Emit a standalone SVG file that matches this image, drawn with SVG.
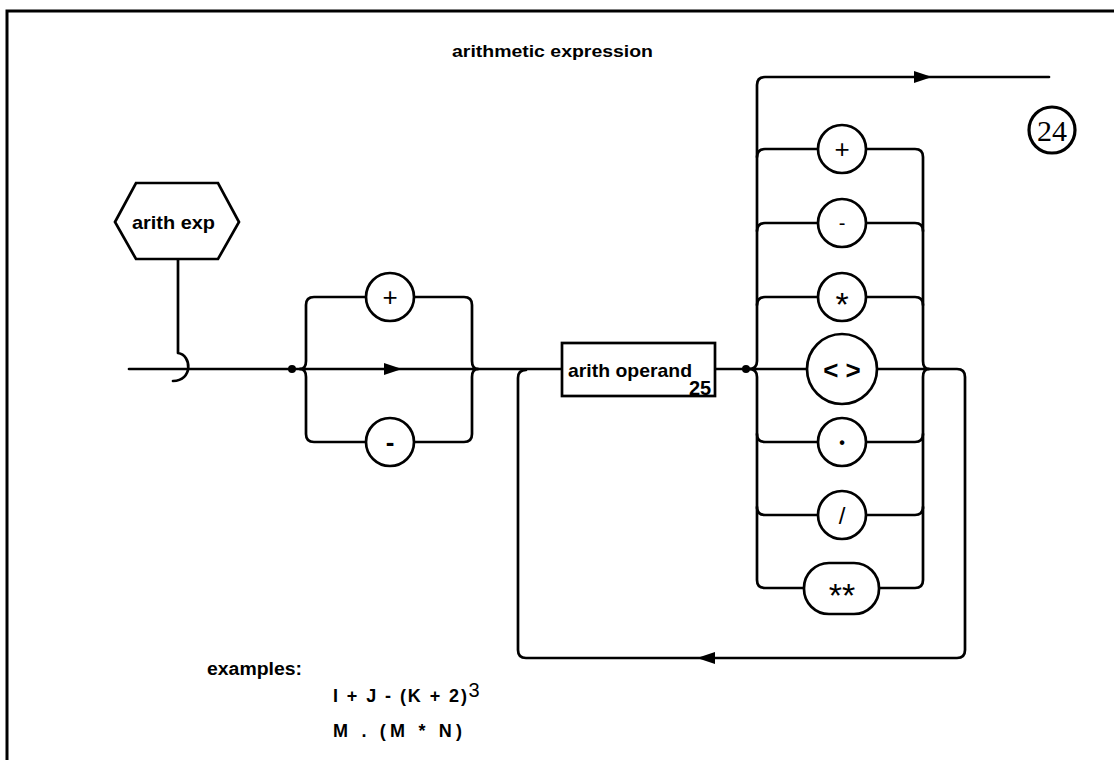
<svg xmlns="http://www.w3.org/2000/svg" width="1114" height="760" viewBox="0 0 1114 760">
<style>
.ln{fill:none;stroke:#000;stroke-width:2.7;stroke-linejoin:round;stroke-linecap:round}
.nd{fill:#fff;stroke:#000;stroke-width:2.7}
.tx{font-family:"Liberation Sans",Arial,sans-serif;font-weight:bold;fill:#000}
.op{font-family:"Liberation Sans",Arial,sans-serif;fill:#000;text-anchor:middle}
</style>
<defs>
<path id="arR" d="M0,0 L-18,-6 L-18,6 Z" fill="#000"/>
</defs>
<rect width="1114" height="760" fill="#fff"/>
<path d="M7,760 V11 H1114" fill="none" stroke="#000" stroke-width="3"/>
<text class="tx" x="452" y="57" font-size="17" textLength="201" lengthAdjust="spacingAndGlyphs">arithmetic expression</text>
<g id="ref24">
<circle cx="1052" cy="130" r="23" fill="#fff" stroke="#000" stroke-width="3.2"/>
<text x="1052" y="141" font-family="Liberation Serif,serif" font-size="30" text-anchor="middle">24</text>
</g>
<g id="connectors">
<path class="ln" d="M178,259 V353 C192,355 193,381 173,381"/>
<path class="ln" d="M129,369 H562"/>
<path class="ln" d="M300,369 Q306,369 306,361 V305 Q306,297 314,297 H366 M414,297 H464 Q472,297 472,305 V361 Q472,369 478,369"/>
<path class="ln" d="M300,369 Q306,369 306,377 V434 Q306,442 314,442 H366 M414,442 H464 Q472,442 472,434 V377 Q472,369 478,369"/>
<use href="#arR" x="402" y="369"/>
<path class="ln" d="M715,369 H807 M877,369 H957 Q965,369 965,377 V650 Q965,658 957,658 H526 Q518,658 518,650 V378 Q518,370 526,370"/>
<use href="#arR" transform="translate(697,658) rotate(180)"/>
<path class="ln" d="M749,369 Q757,369 757,361 V85 Q757,77 765,77 H1049"/>
<use href="#arR" x="932" y="77"/>
<path class="ln" d="M749,369 Q757,369 757,377 V580 Q757,588 765,588 H804 M879,588 H915 Q923,588 923,580 V377 Q923,369 929,369"/>
<path class="ln" d="M757,157 Q757,149 765,149 H818 M866,149 H915 Q923,149 923,157 V361 Q923,369 929,369"/>
<path class="ln" d="M757,231 Q757,223 765,223 H818 M866,223 H915 Q923,223 923,231"/>
<path class="ln" d="M757,305 Q757,297 765,297 H818 M866,297 H915 Q923,297 923,305"/>
<path class="ln" d="M757,434 Q757,442 765,442 H818 M866,442 H915 Q923,442 923,434"/>
<path class="ln" d="M757,507 Q757,515 765,515 H818 M866,515 H915 Q923,515 923,507"/>
<circle cx="292" cy="369" r="4" fill="#000"/>
<circle cx="746" cy="369" r="4" fill="#000"/>
</g>
<g id="arith-exp">
<polygon class="nd" points="115,222 136,183 218,183 239,222 218,259 136,259"/>
<text class="tx" x="132" y="229" font-size="19" textLength="83" lengthAdjust="spacingAndGlyphs">arith exp</text>
</g>
<g id="plus1"><circle class="nd" cx="390" cy="297" r="24"/><text class="op" x="390" y="306" font-size="26">+</text></g>
<g id="minus1"><circle class="nd" cx="390" cy="442" r="24"/><text class="op" x="390" y="451" font-size="26" font-weight="bold">-</text></g>
<g id="arith-operand">
<rect class="nd" x="562" y="343" width="153" height="53"/>
<text class="tx" x="568" y="377" font-size="19" textLength="124" lengthAdjust="spacingAndGlyphs">arith operand</text>
<text class="tx" x="689" y="395" font-size="20">25</text>
</g>
<g id="op-plus"><circle class="nd" cx="842" cy="149" r="24"/><text class="op" x="842" y="158" font-size="26">+</text></g>
<g id="op-minus"><circle class="nd" cx="842" cy="223" r="24"/><text class="op" x="842" y="230" font-size="20">-</text></g>
<g id="op-mul"><circle class="nd" cx="842" cy="297" r="24"/><text class="op" x="842" y="316" font-size="34">*</text></g>
<g id="op-ne"><circle class="nd" cx="842" cy="369" r="35" stroke-width="3.5"/><text class="op" x="842" y="379" font-size="26" font-weight="bold">&lt; &gt;</text></g>
<g id="op-dot"><circle class="nd" cx="842" cy="442" r="24"/><text class="op" x="842" y="448" font-size="16" font-weight="bold">•</text></g>
<g id="op-div"><circle class="nd" cx="842" cy="515" r="24"/><text class="op" x="842" y="524" font-size="24">/</text></g>
<g id="op-pow"><rect class="nd" x="804" y="563" width="75" height="51" rx="25"/><text class="op" x="842" y="607" font-size="34">**</text></g>
<g id="examples">
<text class="tx" x="207" y="675" font-size="18" textLength="95" lengthAdjust="spacingAndGlyphs">examples:</text>
<text class="tx" x="333" y="702" font-size="18" textLength="134" lengthAdjust="spacing" xml:space="preserve">I + J - (K + 2)</text>
<text class="op" x="474" y="697" font-size="20">3</text>
<text class="tx" x="333" y="737" font-size="18" textLength="129" lengthAdjust="spacing" xml:space="preserve">M . (M * N)</text>
</g>
</svg>
